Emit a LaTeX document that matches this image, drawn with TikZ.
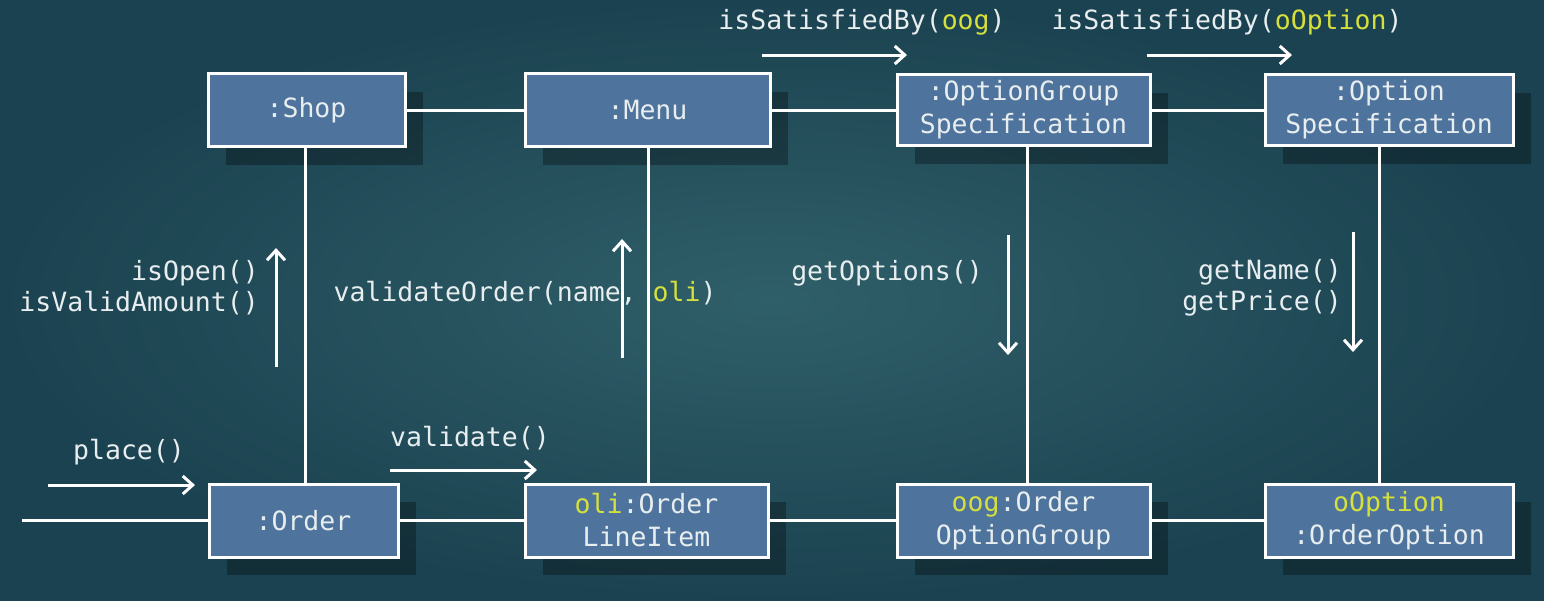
\documentclass[tikz,border=0pt]{standalone}
\usepackage{fontspec}
\setmonofont{DejaVu Sans Mono}
\usetikzlibrary{arrows.meta,shadows,calc}
\definecolor{bgdark}{HTML}{1B4250}
\definecolor{bglight}{HTML}{2F5F69}
\definecolor{boxblue}{HTML}{4E739C}
\definecolor{txt}{HTML}{E8EEF0}
\definecolor{hl}{HTML}{D6E03C}
\newcommand{\hlt}[1]{\textcolor{hl}{#1}}
\tikzset{
  obj/.style={draw=white, line width=3pt, fill=boxblue, text=txt, align=center,
    inner sep=0pt, font=\ttfamily\fontsize{26.5}{33}\selectfont,
    drop shadow={shadow xshift=18pt, shadow yshift=-18pt, fill=black, opacity=0.3}},
  link/.style={draw=white, line width=3pt},
  msg/.style={draw=white, line width=3pt, -{Straight Barb[length=10pt,width=18pt,line width=3pt]}},
  lbl/.style={text=txt, inner sep=0pt, font=\ttfamily\fontsize{26.5}{31}\selectfont}
}
\begin{document}
\begin{tikzpicture}[x=1pt,y=-1pt]
\useasboundingbox (0,0) rectangle (1544,600);
\shade[inner color=bglight, outer color=bgdark] (0,0) rectangle (1544,600);
% objects
\node[obj, minimum width=197pt, minimum height=73pt] (shop) at (306.5,110) {:Shop};
\node[obj, minimum width=245pt, minimum height=73pt] (menu) at (647.5,110) {:Menu};
\node[obj, minimum width=253pt, minimum height=71pt] (ogs) at (1023.5,110) {:OptionGroup\\Specification};
\node[obj, minimum width=248pt, minimum height=71pt] (os) at (1389,110) {:Option\\Specification};
\node[obj, minimum width=189pt, minimum height=73pt] (order) at (303.5,520.5) {:Order};
\node[obj, minimum width=243pt, minimum height=73pt] (oli) at (646.5,520.5) {\hlt{oli}:Order\\LineItem};
\node[obj, minimum width=253pt, minimum height=73pt] (oog) at (1023.5,520.5) {\hlt{oog}:Order\\OptionGroup};
\node[obj, minimum width=248pt, minimum height=73pt] (oopt) at (1389,520.5) {\hlt{oOption}\\:OrderOption};
% links
\draw[link] (shop) -- (menu);
\draw[link] (menu) -- (ogs);
\draw[link] (ogs) -- (os);
\draw[link] (order) -- (oli);
\draw[link] (oli) -- (oog);
\draw[link] (oog) -- (oopt);
\coordinate (start) at (22,520.5);
\draw[link] (start) -- (order.west);
\draw[link] ([xshift=-1.5pt]shop.south) -- ([xshift=-1.5pt]shop.south |- order.north);
\draw[link] ([xshift=0.5pt]menu.south) -- ([xshift=0.5pt]menu.south |- oli.north);
\draw[link] ([xshift=4pt]ogs.south) -- ([xshift=4pt]ogs.south |- oog.north);
\draw[link] ([xshift=-10pt]os.south) -- ([xshift=-10pt]os.south |- oopt.north);
% messages
\coordinate (p1) at (48,485); \coordinate (p2) at (195,485);
\draw[msg] (p1) -- (p2);
\node[lbl] (lplace) at (129,452) {place()};
\coordinate (v1) at (390,470); \coordinate (v2) at (537,470);
\draw[msg] (v1) -- (v2);
\node[lbl] (lval) at (470,438) {validate()};
\coordinate (o1) at (276,367); \coordinate (o2) at (276,248);
\draw[msg] (o1) -- (o2);
\node[lbl, align=right, anchor=east] (lopen) at (259,288) {isOpen()\\isValidAmount()};
\coordinate (m1) at (622,358); \coordinate (m2) at (622,239);
\node[lbl] (lvo) at (525,293) {validateOrder(name, \hlt{oli})};
\draw[msg] (m1) -- (m2);
\coordinate (g1) at (1008,235); \coordinate (g2) at (1008,355);
\draw[msg] (g1) -- (g2);
\node[lbl] (lgo) at (887,273) {getOptions()};
\coordinate (n1) at (1353,232); \coordinate (n2) at (1353,352);
\draw[msg] (n1) -- (n2);
\node[lbl, align=right, anchor=east] (lgn) at (1342,288) {getName()\\getPrice()};
\coordinate (s1) at (762,55); \coordinate (s2) at (907,55);
\draw[msg] (s1) -- (s2);
\node[lbl] (ls1) at (862,22) {isSatisfiedBy(\hlt{oog})};
\coordinate (t1) at (1147,55); \coordinate (t2) at (1292,55);
\draw[msg] (t1) -- (t2);
\node[lbl] (ls2) at (1227,22) {isSatisfiedBy(\hlt{oOption})};
\end{tikzpicture}
\end{document}
